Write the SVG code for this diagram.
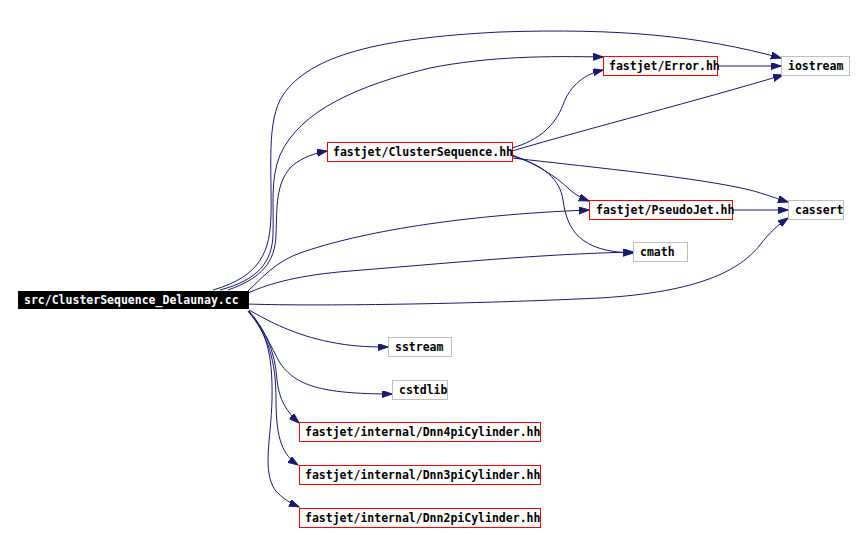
<svg xmlns="http://www.w3.org/2000/svg" width="865" height="533" viewBox="0 0 865 533">
<style>
text{font-family:"DejaVu Sans Mono","Liberation Mono",monospace;font-weight:bold;font-size:11.5px;fill:#000}
.red rect{fill:#fff;stroke:#ff0000;stroke-width:1}
.sys rect{fill:#fff;stroke:#bfbfbf;stroke-width:1}
#edges path{fill:none;stroke:#191970;stroke-width:1;marker-end:url(#arr)}
</style>
<defs>
<marker id="arr" markerUnits="userSpaceOnUse" markerWidth="11" markerHeight="8" refX="10" refY="3.5" orient="auto">
<path d="M0,0 L10,3.5 L0,7 z" fill="#191970" stroke="#191970" stroke-width="1"/>
</marker>
</defs>
<rect width="865" height="533" fill="#fff"/>
<g id="edges">
<path d="M213,290 C262,276 270,250 271,215 C272,170 266,120 283,95 C310,55 380,38 500,32 C620,28 700,36 781,58"/>
<path d="M220,290 C258,280 272,262 273,235 C274,205 270,180 280,155 C300,110 360,85 430,68 C490,56 550,56 603,57"/>
<path d="M228,290 C262,278 275,262 276,235 C277,205 276,185 290,168 C298,160 310,154 327,151"/>
<path d="M248,291 C262,278 275,262 300,253 C360,232 460,215 589,210"/>
<path d="M248,293 C270,283 300,275 350,271 C450,263 540,254 633,252"/>
<path d="M248,304 C300,306 450,305 600,298 C700,292 740,270 760,245 C770,232 778,225 788,218"/>
<path d="M249,310 C270,322 295,335 330,342 C350,346 365,347 388,347"/>
<path d="M249,311 C262,325 270,345 280,363 C295,385 320,394 392,394"/>
<path d="M248,311 C265,330 275,350 277,380 C279,400 287,412 299,423"/>
<path d="M248,311 C268,335 276,360 276,400 C276,440 283,455 298,465"/>
<path d="M248,311 C265,330 273,350 272,400 C271,440 262,470 275,490 C282,498 290,503 299,507"/>
<path d="M512,148 C540,140 555,125 563,105 C570,85 585,74 603,70"/>
<path d="M512,151 C590,128 700,100 783,75"/>
<path d="M512,158 C600,168 700,178 750,190 C765,194 775,198 788,202"/>
<path d="M512,155 C540,165 560,180 570,190 C576,195 581,198 589,201"/>
<path d="M512,156 C545,165 560,180 563,200 C567,230 580,252 633,253"/>
<path d="M732,210 L788,210"/>
<path d="M717,66 L781,66"/>
</g>
<g id="main"><rect x="18" y="291" width="231" height="18" fill="#000"/><text x="24" y="304" style="fill:#fff">src/ClusterSequence_Delaunay.cc</text></g>
<g id="cs" class="red"><rect x="327.5" y="142.5" width="185" height="19"/><text x="333" y="156">fastjet/ClusterSequence.hh</text></g>
<g id="error" class="red"><rect x="603.5" y="56.5" width="114" height="19"/><text x="609" y="70">fastjet/Error.hh</text></g>
<g id="iostream" class="sys"><rect x="781.5" y="56.5" width="68" height="19"/><text x="788" y="70">iostream</text></g>
<g id="pseudojet" class="red"><rect x="589.5" y="200.5" width="143" height="19"/><text x="596" y="214">fastjet/PseudoJet.hh</text></g>
<g id="cassert" class="sys"><rect x="788.5" y="200.5" width="55" height="19"/><text x="795" y="214">cassert</text></g>
<g id="cmath" class="sys"><rect x="633.5" y="242.5" width="54" height="19"/><text x="640" y="256">cmath</text></g>
<g id="sstream" class="sys"><rect x="388.5" y="337.5" width="63" height="19"/><text x="395" y="351">sstream</text></g>
<g id="cstdlib" class="sys"><rect x="392.5" y="380.5" width="55" height="19"/><text x="399" y="394">cstdlib</text></g>
<g id="dnn4" class="red"><rect x="299.5" y="422.5" width="241" height="19"/><text x="305" y="436">fastjet/internal/Dnn4piCylinder.hh</text></g>
<g id="dnn3" class="red"><rect x="299.5" y="465.5" width="241" height="19"/><text x="305" y="479">fastjet/internal/Dnn3piCylinder.hh</text></g>
<g id="dnn2" class="red"><rect x="299.5" y="508.5" width="241" height="19"/><text x="305" y="522">fastjet/internal/Dnn2piCylinder.hh</text></g>
</svg>
